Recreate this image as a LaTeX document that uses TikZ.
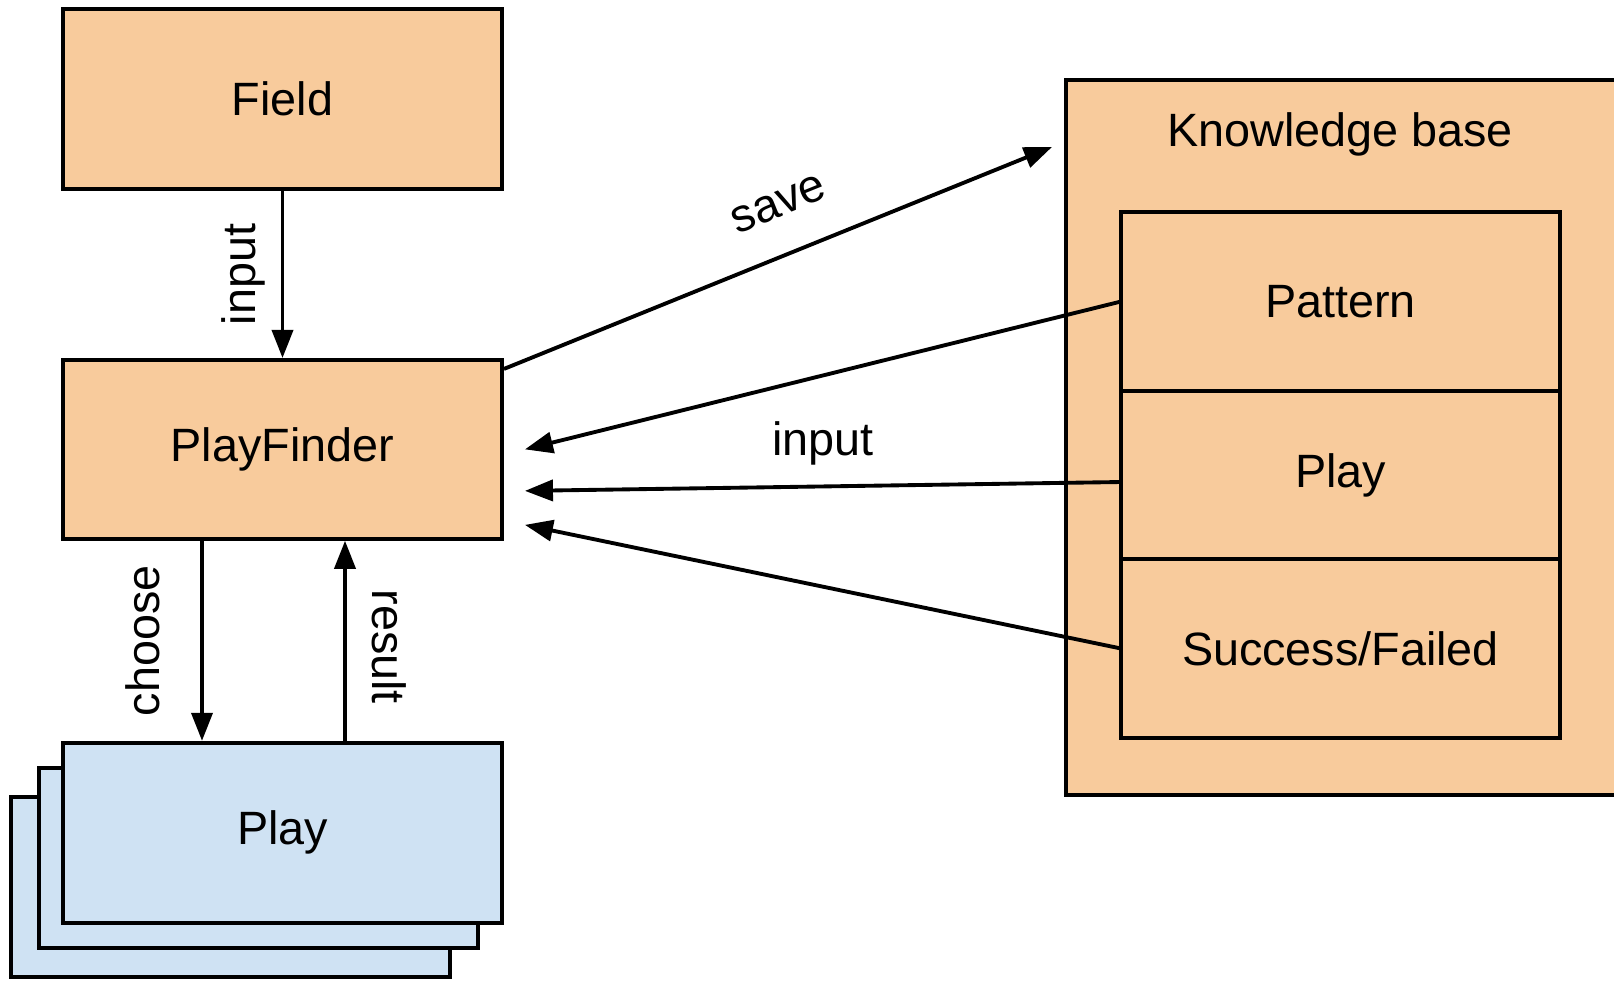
\documentclass[tikz,border=0pt]{standalone}
\usepackage{fontspec}
\setmainfont{Liberation Sans}
\usetikzlibrary{arrows.meta, positioning, calc}

\definecolor{boxorange}{RGB}{248,203,156}
\definecolor{boxblue}{RGB}{207,226,243}

\begin{document}
\begin{tikzpicture}[
    font=\fontsize{13.3pt}{16pt}\selectfont,
    box/.style={rectangle, draw=black, fill=boxorange, line width=1.1pt,
                minimum width=4.39cm, minimum height=1.80cm, align=center},
    playbox/.style={box, fill=boxblue},
    rowbox/.style={box, minimum height=1.79cm, outer sep=0pt},
    arrow/.style={-{Triangle[length=0.28cm, width=0.21cm]}, line width=1.1pt},
    lbl/.style={inner sep=2pt},
]
\clip (0,0) rectangle (16.14,9.80);

% Field and PlayFinder
\node[box] (field) at (2.825,8.81) {Field};
\node[box, minimum height=1.79cm, below=1.67cm of field] (finder) {PlayFinder};

% stack of plays
\node[playbox] (play3) at (2.305,0.93) {};
\node[playbox] (play2) at (2.585,1.22) {};
\node[playbox, below=2.00cm of finder] (play) {Play};

% Knowledge base
\node[box, minimum width=5.54cm, minimum height=7.15cm] (kb) at (13.43,5.425) {};
\node (kbtitle) at (13.40,8.46) {Knowledge base};
\node[rowbox] (pattern) at (13.405,6.785) {Pattern};
\node[rowbox, minimum height=1.68cm, below=0cm of pattern] (kbplay) {Play};
\node[rowbox, below=0cm of kbplay] (success) {Success/Failed};

% free ends
\coordinate (savetip) at (10.52,8.33);
\coordinate (in1) at ($(finder.east)+(0.21,0)$);
\coordinate (in2) at ($(finder.east)+(0.21,-0.415)$);
\coordinate (in3) at ($(finder.east)+(0.21,-0.755)$);

% Arrows
\draw[arrow] (field) -- node[midway, rotate=90, anchor=south, inner sep=0.15cm] {input} (finder);
\draw[arrow] ([xshift=-0.805cm]finder.south) -- node[midway, rotate=90, anchor=south, inner sep=0.40cm] {choose} ([xshift=-0.805cm]play.north);
\draw[arrow] ([xshift=0.625cm]play.north) -- node[pos=0.47, rotate=-90, anchor=south, inner sep=0.25cm] {result} ([xshift=0.625cm]finder.south);
\draw[arrow] ([yshift=-0.11cm]finder.north east) -- node[lbl, pos=0.535, sloped, above=0.28cm] {save} (savetip);

% knowledge base to PlayFinder
\draw[arrow] (pattern.west) -- (in1);
\draw[arrow] ([yshift=-0.07cm]kbplay.west) -- node[lbl, midway, above=0.12cm] {input} (in2);
\draw[arrow] (success.west) -- (in3);

\end{tikzpicture}
\end{document}
